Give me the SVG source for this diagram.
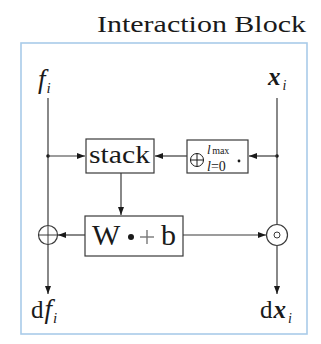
<svg xmlns="http://www.w3.org/2000/svg" width="321" height="344" viewBox="0 0 321 344">
  <style>
    .frame { fill: none; stroke: #a9cbe9; stroke-width: 1.6; }
    .box { fill: #ffffff; stroke: #3a3a3a; stroke-width: 1.2; }
    .wire { fill: none; stroke: #3a3a3a; stroke-width: 1.2; }
    .arrow { fill: none; stroke: #3a3a3a; stroke-width: 1.2; marker-end: url(#head); }
    .txt { font-family: "Liberation Serif", "DejaVu Serif", serif; fill: #1a1a1a; }
    .it { font-style: italic; }
    .bf { font-weight: bold; font-style: italic; }
    .dot { fill: #1a1a1a; }
  </style>
  <defs>
    <marker id="head" viewBox="0 0 8 6" refX="8" refY="3" markerWidth="8" markerHeight="6" markerUnits="userSpaceOnUse" orient="auto">
      <path d="M0,0 L8,3 L0,6 Z" fill="#1a1a1a"/>
    </marker>
  </defs>

  <rect width="321" height="344" fill="#ffffff"/>

  <!-- title and outer block -->
  <text class="txt" x="97" y="32" font-size="24" textLength="209" lengthAdjust="spacingAndGlyphs">Interaction Block</text>
  <rect class="frame" x="21" y="43" width="286" height="291"/>

  <!-- connectors -->
  <g id="connectors">
    <line class="wire" x1="48" y1="98" x2="48" y2="225"/>
    <line class="arrow" x1="48" y1="244" x2="48" y2="294"/>
    <line class="wire" x1="277" y1="98" x2="277" y2="224"/>
    <line class="arrow" x1="277" y1="246" x2="277" y2="294"/>
    <circle class="dot" cx="48" cy="156" r="1.8"/>
    <line class="arrow" x1="48" y1="156" x2="85" y2="156"/>
    <line class="arrow" x1="187" y1="156" x2="155" y2="156"/>
    <circle class="dot" cx="277" cy="156" r="1.8"/>
    <line class="arrow" x1="277" y1="156" x2="249" y2="156"/>
    <line class="arrow" x1="121" y1="173" x2="121" y2="215"/>
    <line class="arrow" x1="85" y1="235" x2="58" y2="235"/>
    <line class="arrow" x1="183" y1="235" x2="266" y2="235"/>
  </g>

  <!-- inputs -->
  <g id="f_in">
    <text class="txt it" x="38" y="88" font-size="27">f<tspan font-size="15" dx="1" dy="5">i</tspan></text>
  </g>
  <g id="x_in">
    <text class="txt bf" x="268" y="85" font-size="25">x<tspan font-size="14" font-weight="normal" dx="2" dy="5">i</tspan></text>
  </g>

  <!-- stack -->
  <g id="stack">
    <rect class="box" x="86" y="139" width="68" height="34"/>
    <text class="txt" x="89" y="163" font-size="26" textLength="61" lengthAdjust="spacingAndGlyphs">stack</text>
  </g>

  <!-- direct sum over l -->
  <g id="dirsum">
    <rect class="box" x="187" y="140" width="61" height="33"/>
    <circle cx="197" cy="160" r="6.5" fill="none" stroke="#1a1a1a" stroke-width="1"/>
    <line x1="190.5" y1="160" x2="203.5" y2="160" stroke="#1a1a1a" stroke-width="1"/>
    <line x1="197" y1="153.5" x2="197" y2="166.5" stroke="#1a1a1a" stroke-width="1"/>
    <text class="txt" x="207" y="154" font-size="13"><tspan font-style="italic">l</tspan><tspan font-size="10" dx="1.5">max</tspan></text>
    <text class="txt" x="207" y="171" font-size="14"><tspan font-style="italic">l</tspan>=0</text>
    <circle class="dot" cx="239" cy="161" r="1.4"/>
  </g>

  <!-- linear layer -->
  <g id="linear">
    <rect class="box" x="85" y="216" width="98" height="40"/>
    <text class="txt" x="92" y="245" font-size="30">W</text>
    <circle class="dot" cx="131" cy="237" r="3"/>
    <line x1="140" y1="237" x2="154" y2="237" stroke="#777" stroke-width="1.4"/>
    <line x1="147" y1="230" x2="147" y2="244" stroke="#777" stroke-width="1.4"/>
    <text class="txt" x="161" y="245" font-size="30">b</text>
  </g>

  <!-- sum node -->
  <g id="add">
    <circle cx="48" cy="235" r="9.5" fill="#ffffff" stroke="#3a3a3a" stroke-width="1.2"/>
    <line x1="38.5" y1="235" x2="57.5" y2="235" stroke="#3a3a3a" stroke-width="1"/>
    <line x1="48" y1="225.5" x2="48" y2="244.5" stroke="#3a3a3a" stroke-width="1"/>
  </g>

  <!-- elementwise product node -->
  <g id="mul">
    <circle cx="277" cy="235" r="10.5" fill="#ffffff" stroke="#3a3a3a" stroke-width="1.2"/>
    <circle cx="277" cy="235" r="3" fill="none" stroke="#3a3a3a" stroke-width="1"/>
  </g>

  <!-- outputs -->
  <g id="f_out">
    <text class="txt" x="31" y="318" font-size="25">d<tspan font-style="italic" font-size="27" dx="1">f</tspan><tspan font-style="italic" font-size="15" dx="1" dy="5">i</tspan></text>
  </g>
  <g id="x_out">
    <text class="txt" x="260" y="318" font-size="25">d<tspan class="bf" dx="1">x</tspan><tspan font-style="italic" font-size="14" dx="2" dy="5">i</tspan></text>
  </g>
</svg>
